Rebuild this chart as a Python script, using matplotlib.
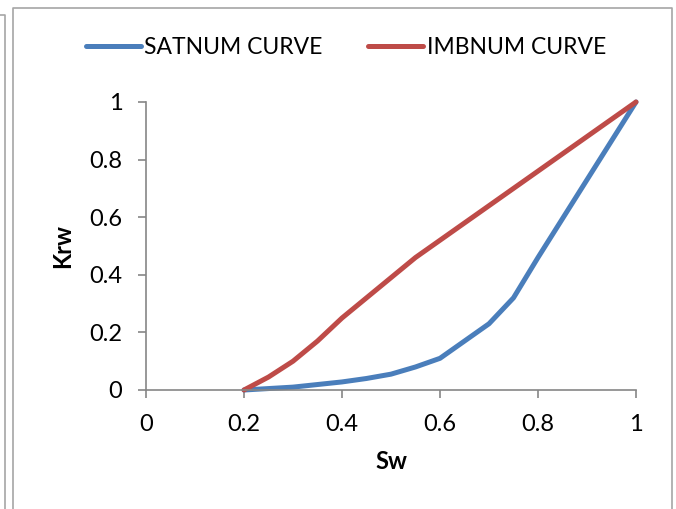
import matplotlib
matplotlib.use('Agg')
import matplotlib.pyplot as plt
from matplotlib.lines import Line2D

plt.rcParams['font.family'] = ['Lato', 'DejaVu Sans']

sw_sat = [0.2, 0.3, 0.4, 0.45, 0.5, 0.55, 0.6, 0.7, 0.75, 0.8, 0.9, 1.0]
krw_sat = [0.0, 0.01, 0.028, 0.04, 0.055, 0.08, 0.11, 0.23, 0.32, 0.46, 0.73, 1.0]

sw_imb = [0.2, 0.25, 0.3, 0.35, 0.4, 0.45, 0.5, 0.55, 0.6, 0.7, 0.8, 0.9, 1.0]
krw_imb = [0.0, 0.045, 0.1, 0.17, 0.25, 0.32, 0.39, 0.46, 0.52, 0.64, 0.76, 0.88, 1.0]

xticks = [0, 0.2, 0.4, 0.6, 0.8, 1]
yticks = [0, 0.2, 0.4, 0.6, 0.8, 1]
tick_labels = ['0', '0.2', '0.4', '0.6', '0.8', '1']

W, H = 676, 509
fig = plt.figure(figsize=(W / 100, H / 100), dpi=100)
ax = fig.add_axes([146 / W, 1 - 390 / H, 490 / W, 288 / H])

ax.plot(sw_sat, krw_sat, color='#4a7ebb', lw=3.6, label='SATNUM CURVE', solid_capstyle='round')
ax.plot(sw_imb, krw_imb, color='#be4b48', lw=3.6, label='IMBNUM CURVE', solid_capstyle='round')

ax.set_xlim(0, 1)
ax.set_ylim(0, 1)
ax.set_xticks(xticks)
ax.set_xticklabels(tick_labels)
ax.set_yticks(yticks)
ax.set_yticklabels(tick_labels)
ax.tick_params(labelsize=17, length=6, width=1.2, color='#868686', pad=11)
for s in ['top', 'right']:
    ax.spines[s].set_visible(False)
for s in ['left', 'bottom']:
    ax.spines[s].set_color('#868686')
    ax.spines[s].set_linewidth(1.2)
for ln in ax.get_lines():
    ln.set_clip_on(False)

ax.set_xlabel('Sw', fontsize=17, fontweight='bold', labelpad=11)
ax.set_ylabel('Krw', fontsize=17, fontweight='bold', labelpad=11)

fig.legend(loc='center', bbox_to_anchor=(346 / W, 1 - 48 / H), ncol=2, frameon=False,
           fontsize=16.5, handlelength=2.4, handletextpad=0.15, columnspacing=2.0)

# chart frame and the edge of the box next to it
def px_line(xs, ys):
    fig.add_artist(Line2D([x / W for x in xs], [1 - y / H for y in ys],
                          transform=fig.transFigure, color='#a6a6a6', lw=1.2))

px_line([13, 13, 672, 672], [H + 5, 8, 8, H + 5])
px_line([0, 5, 5], [15, 15, H + 5])

fig.savefig('out.png', dpi=100)
